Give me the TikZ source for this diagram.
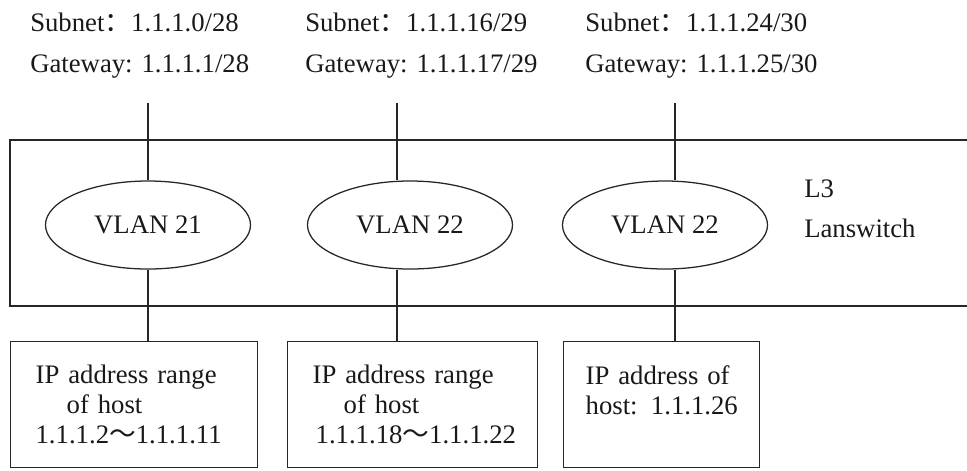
\documentclass[tikz,border=0pt]{standalone}
\usepackage{fontspec}
\setmainfont{Liberation Serif}
\newfontfamily\cjk{Noto Sans CJK SC}
\usetikzlibrary{shapes.geometric}

\begin{document}
\begin{tikzpicture}[
  x=0.025cm, y=-0.025cm,
  every node/.style={font=\fontsize{19}{21.3}\selectfont, text=black!90},
  info/.style={inner sep=0pt, anchor=base west},
  vlan/.style={ellipse, draw=black!85, line width=0.9pt, minimum width=5.125cm, minimum height=2.2cm, inner sep=0pt},
  host/.style={rectangle, draw=black!85, line width=0.9pt, align=left, anchor=north west, inner xsep=0.625cm, inner ysep=0pt, minimum height=3.15cm},
  switch/.style={rectangle, draw=black!85, line width=0.9pt, inner sep=0pt, minimum width=24.125cm, minimum height=4.15cm},
  link/.style={draw=black!85, line width=0.9pt}
]
\useasboundingbox (0,0) rectangle (967,470);

% Subnet and gateway of each VLAN
\node[info] (sub1) at (30,31.7) {Subnet{\cjk ：}1.1.1.0/28};
\node[info] (gw1) at (30,72) {Gateway: 1.1.1.1/28};
\node[info] (sub2) at (305,31.7) {Subnet{\cjk ：}1.1.1.16/29};
\node[info] (gw2) at (305,72) {Gateway: 1.1.1.17/29};
\node[info] (sub3) at (585,31.7) {Subnet{\cjk ：}1.1.1.24/30};
\node[info] (gw3) at (585,72) {Gateway: 1.1.1.25/30};

\coordinate (top1) at (148,103);
\coordinate (top2) at (397,103);
\coordinate (top3) at (675,103);

% L3 switch
\node[switch] (lsw) at (492.5,223) {};
\node[align=left, inner sep=0pt, anchor=west, font=\fontsize{19}{28.5}\selectfont] (lswname) at (804,208.5) {L3\\Lanswitch};

% VLAN interfaces
\node[vlan] (vlan1) at (148,225) {VLAN 21};
\node[vlan] (vlan2) at (410,225) {VLAN 22};
\node[vlan] (vlan3) at (665,225) {VLAN 22};

% Hosts
\node[host, text width=4.925cm] (host1) at (10,341) {IP address range\\\hspace*{0.775cm}of host\\1.1.1.2{\cjk ～}1.1.1.11};
\node[host, text width=5cm] (host2) at (287,341) {IP address range\\\hspace*{0.775cm}of host\\\hspace*{0.075cm}1.1.1.18{\cjk ～}1.1.1.22};
\node[host, inner xsep=0.55cm, text width=3.8cm] (host3) at (563,341) {IP address of\\\mbox{host: 1.1.1.26}\\\mbox{}};

% Links
\foreach \i in {1,2,3} {
  \draw[link] (top\i) -- (top\i |- vlan\i.north);
  \draw[link] (vlan\i.south -| top\i) -- (host\i.north -| top\i);
}

\end{tikzpicture}
\end{document}
